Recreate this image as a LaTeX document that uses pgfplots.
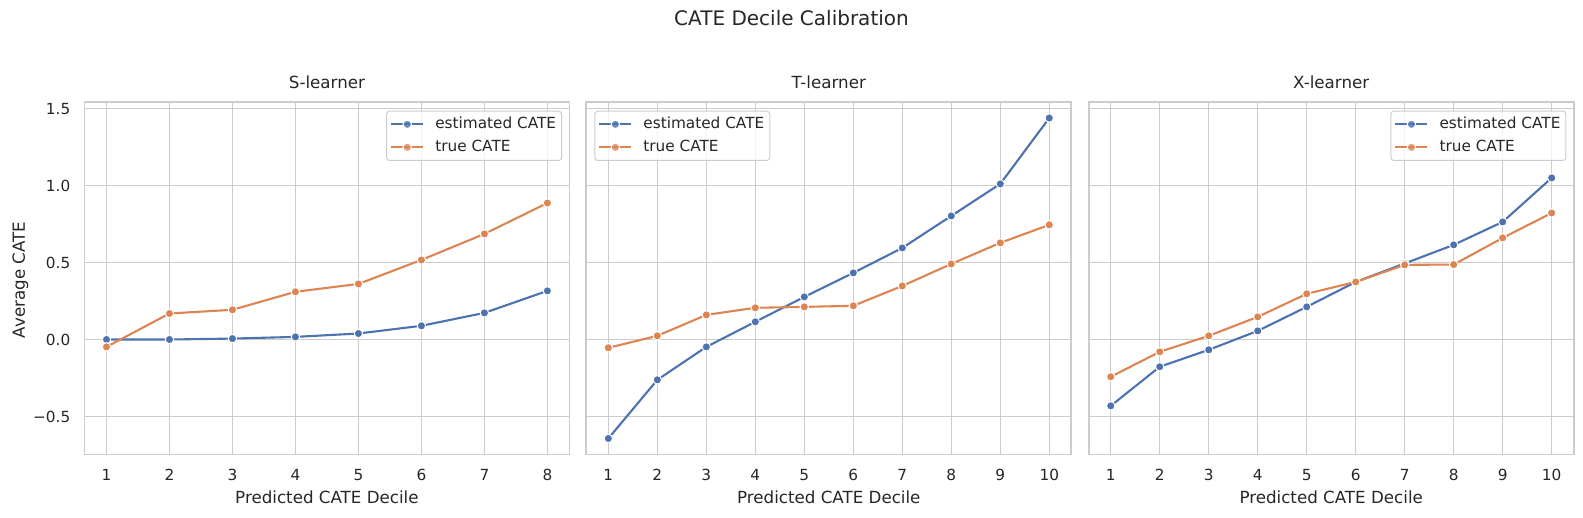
\documentclass[border=0pt]{standalone}
\usepackage{fontspec}
\setmainfont{DejaVu Sans}
\usepackage{pgfplots}
\pgfplotsset{compat=1.18}
\definecolor{sbblue}{HTML}{4C72B0}
\definecolor{sborange}{HTML}{DD8452}
\definecolor{gridc}{HTML}{CCCCCC}
\definecolor{txt}{HTML}{262626}

\pgfplotstableread{
x est tru
1 0.000 -0.048
2 0.000 0.169
3 0.006 0.193
4 0.017 0.310
5 0.039 0.361
6 0.089 0.517
7 0.173 0.686
8 0.316 0.887
}\Sdata
\pgfplotstableread{
x est tru
1 -0.643 -0.054
2 -0.262 0.024
3 -0.048 0.160
4 0.115 0.206
5 0.277 0.212
6 0.433 0.219
7 0.595 0.348
8 0.803 0.491
9 1.011 0.628
10 1.439 0.745
}\Tdata
\pgfplotstableread{
x est tru
1 -0.431 -0.242
2 -0.177 -0.080
3 -0.067 0.024
4 0.056 0.147
5 0.212 0.297
6 0.374 0.374
7 0.494 0.485
8 0.615 0.487
9 0.764 0.660
10 1.050 0.822
}\Xdata

\pgfplotsset{
  cate/.style={
    scale only axis, width=485pt, height=352.5pt,
    anchor=south west,
    ymin=-0.7471, ymax=1.5431,
    ytick={-0.5,0,0.5,1,1.5},
    grid=major, major grid style={gridc, line width=1.3pt},
    axis line style={gridc, line width=1.8pt},
    major tick length=0pt,
    tick label style={font=\fontsize{15.3}{18}\selectfont, text=txt},
    yticklabel style={inner xsep=0pt, xshift=-14pt},
    xticklabel style={inner ysep=0pt, yshift=-14.6pt},
    xlabel={Predicted CATE Decile},
    xlabel style={at={(axis description cs:0.5,0)}, anchor=base, yshift=-49.3pt,
      font=\fontsize{16.7}{20}\selectfont, text=txt},
    title style={at={(axis description cs:0.5,1)}, anchor=base, yshift=7.7pt,
      font=\fontsize{16.7}{20}\selectfont, text=txt},
    legend cell align=left,
    legend image code/.code={
      \draw[mark repeat=2,mark phase=2,##1] plot coordinates {(0pt,0pt) (16pt,0pt) (32pt,0pt)};
    },
    legend style={font=\fontsize{15.3}{18}\selectfont, text=txt, draw=gridc, line width=1pt,
      rounded corners=3pt, fill=white, fill opacity=0.8, text opacity=1,
      inner xsep=3.5pt, inner ysep=3.4pt, row sep=3.5pt,
      nodes={inner xsep=2pt, inner ysep=2pt, text height=12pt, text depth=3.5pt},
      /tikz/every odd column/.append style={column sep=9pt}},
  },
  est/.style={sbblue, line width=2.1pt, mark=*, mark size=4.2pt,
    mark options={draw=white, fill=sbblue, line width=1pt}},
  tru/.style={sborange, line width=2.1pt, mark=*, mark size=4.2pt,
    mark options={draw=white, fill=sborange, line width=1pt}},
}

\begin{document}
\begin{tikzpicture}
\path[use as bounding box] (0pt,0pt) rectangle (1583pt,517pt);

\begin{axis}[cate, at={(84.45pt,62.5pt)}, title={S-learner},
  xmin=0.65, xmax=8.35, xtick={1,2,3,4,5,6,7,8}, xticklabels={1,2,3,4,5,6,7,8},
  yticklabels={−0.5,0.0,0.5,1.0,1.5},
  legend style={at={(1,1)}, anchor=north east, xshift=-7.3pt, yshift=-8.7pt}]
\addplot[est] table[x=x,y=est] {\Sdata};
\addplot[tru] table[x=x,y=tru] {\Sdata};
\legend{estimated CATE, true CATE}
\end{axis}

\begin{axis}[cate, at={(586.3pt,62.5pt)}, title={T-learner},
  xmin=0.55, xmax=10.45, xtick={1,2,3,4,5,6,7,8,9,10}, xticklabels={1,2,3,4,5,6,7,8,9,10},
  yticklabels={},
  legend style={at={(0,1)}, anchor=north west, xshift=8pt, yshift=-8.7pt}]
\addplot[est] table[x=x,y=est] {\Tdata};
\addplot[tru] table[x=x,y=tru] {\Tdata};
\legend{estimated CATE, true CATE}
\end{axis}

\begin{axis}[cate, at={(1088.7pt,62.5pt)}, title={X-learner},
  xmin=0.55, xmax=10.45, xtick={1,2,3,4,5,6,7,8,9,10}, xticklabels={1,2,3,4,5,6,7,8,9,10},
  yticklabels={},
  legend style={at={(1,1)}, anchor=north east, xshift=-7.3pt, yshift=-8.7pt}]
\addplot[est] table[x=x,y=est] {\Xdata};
\addplot[tru] table[x=x,y=tru] {\Xdata};
\legend{estimated CATE, true CATE}
\end{axis}

\node[rotate=90, anchor=base, text=txt, font=\fontsize{16.7}{20}\selectfont] at (25pt,237pt) {Average CATE};
\node[anchor=base, text=txt, font=\fontsize{20}{24}\selectfont] at (791.5pt,491.3pt) {CATE Decile Calibration};
\end{tikzpicture}
\end{document}
